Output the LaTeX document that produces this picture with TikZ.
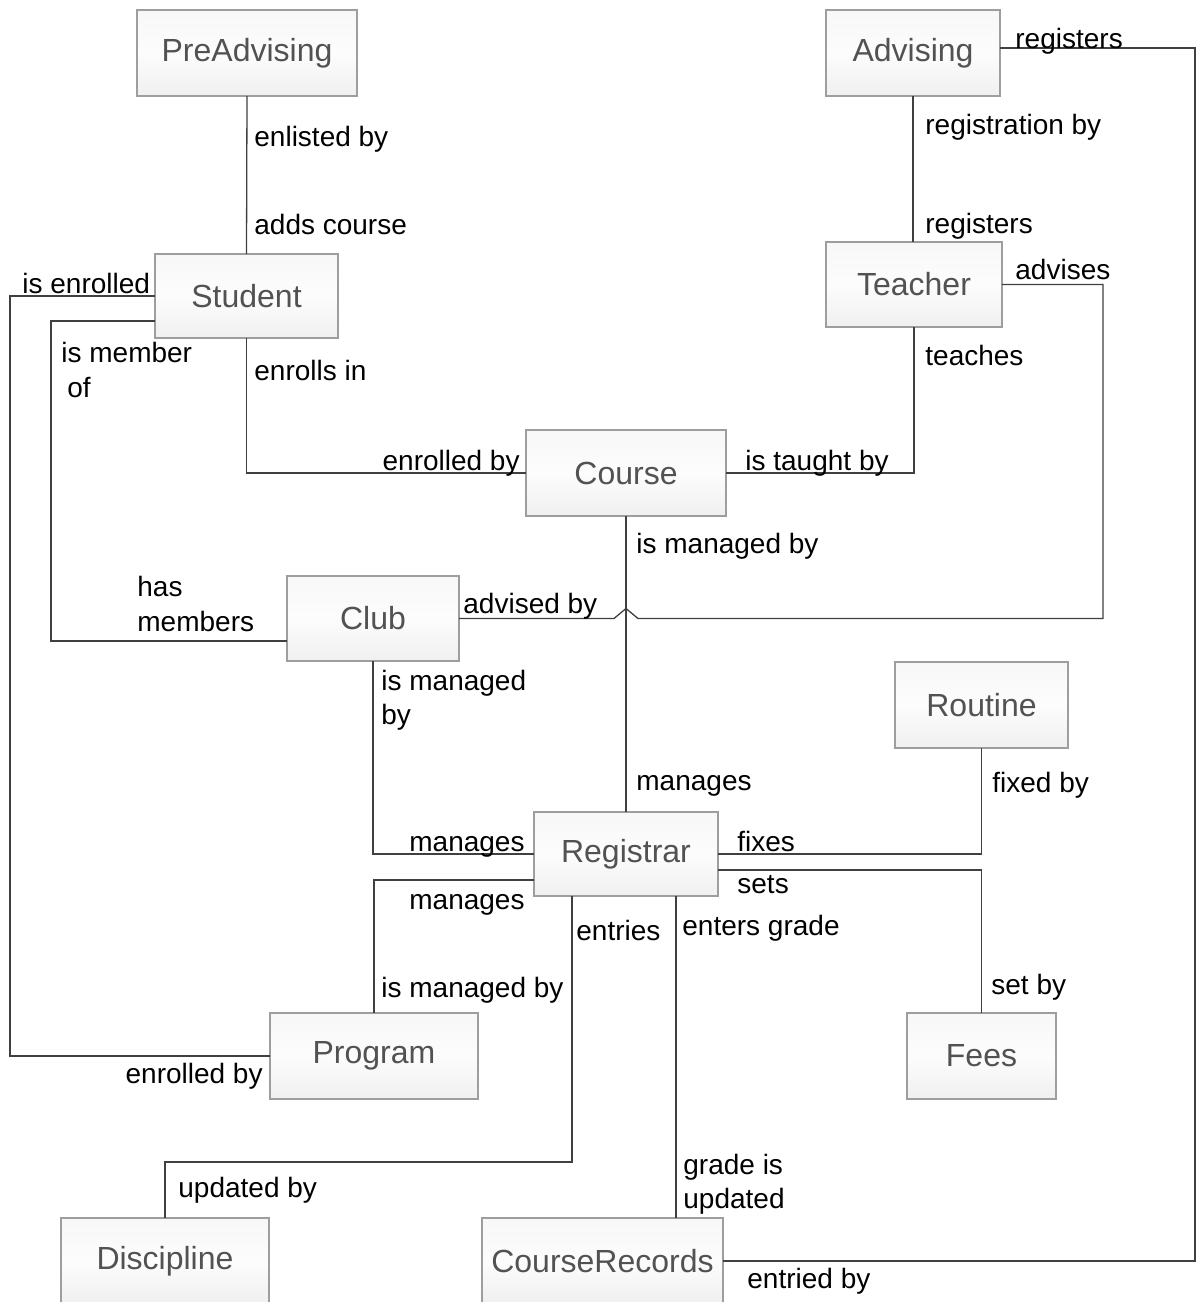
\documentclass[tikz,border=0pt]{standalone}
\usepackage{fontspec}
\setmainfont{Liberation Sans}
\begin{document}
\begin{tikzpicture}[x=0.5pt,y=-0.5pt,
  entity/.style={draw=black!38,top color=black!3,bottom color=black!6,middle color=black!1,
    text=black!68,font=\fontsize{16}{19}\selectfont,
    inner sep=0pt,outer sep=0pt,line width=0.6pt},
  lbl/.style={font=\fontsize{14}{17}\selectfont,inner sep=0pt,text=black},
  conn/.style={draw=black!75,line width=0.65pt}]
\useasboundingbox (0,0) rectangle (1200,1302);

% entities
\node[entity,minimum width=110pt,minimum height=43pt] (pre) at (247,53) {PreAdvising};
\node[entity,minimum width=87pt,minimum height=43pt] (adv) at (913,53) {Advising};
\node[entity,minimum width=91.5pt,minimum height=42pt] (stu) at (246.5,296) {Student};
\node[entity,minimum width=88pt,minimum height=42.5pt] (tea) at (914,284.5) {Teacher};
\node[entity,minimum width=100pt,minimum height=43pt] (crs) at (626,473) {Course};
\node[entity,minimum width=86pt,minimum height=42.5pt] (clb) at (373,618.5) {Club};
\node[entity,minimum width=86.5pt,minimum height=43pt] (rtn) at (981.5,705) {Routine};
\node[entity,minimum width=92pt,minimum height=42pt] (reg) at (626,854) {Registrar};
\node[entity,minimum width=104pt,minimum height=43pt] (prg) at (374,1056) {Program};
\node[entity,minimum width=74.5pt,minimum height=43pt] (fee) at (981.5,1056) {Fees};
\node[entity,minimum width=104pt,minimum height=43pt] (dis) at (165,1261) {Discipline};
\node[entity,minimum width=120.5pt,minimum height=43pt] (cr) at (602.5,1261) {CourseRecords};

% helper coordinates for routed connectors
\coordinate (advR) at (1195,0);
\coordinate (teaR) at (1103,0);
\coordinate (memL) at (51,0);
\coordinate (enrL) at (10,0);
\coordinate (disY) at (0,1162);
\coordinate (stuA) at ([yshift=-12.5pt]stu.west);
\coordinate (clbA) at ([yshift=-11.25pt]clb.west);
\coordinate (regP) at ([yshift=-13pt]reg.west);
\coordinate (regF) at ([yshift=-8pt]reg.east);
\coordinate (regD) at ([xshift=-27pt]reg.south);
\coordinate (regC) at ([xshift=25pt]reg.south);
\coordinate (advA) at ([yshift=2.5pt]adv.east);
\coordinate (hop) at ([xshift=6pt]crs.south |- clb.east);

% connectors
\draw[conn] (pre.south) -- (stu.north);
\draw[conn] (adv.south) -- (tea.north -| adv.south);
\draw[conn] (advA) -| (advR |- cr.east) -- (cr.east);
\draw[conn] (stu.south) |- (crs.west);
\draw[conn] (tea.south) |- (crs.east);
\draw[conn] (tea.east) -| (teaR |- clb.east) -- (hop) -- ++(-6pt,5pt) -- ++(-6pt,-5pt) -- (clb.east);
\draw[conn] (crs.south) -- (reg.north);
\draw[conn] (stuA) -| (memL |- clbA) -- (clbA);
\draw[conn] (stu.west) -| (enrL |- prg.west) -- (prg.west);
\draw[conn] (clb.south) |- (reg.west);
\draw[conn] (regP) -| (prg.north);
\draw[conn] (reg.east) -| (rtn.south);
\draw[conn] (regF) -| (fee.north);
\draw[conn] (regD) |- (disY -| dis.north) -- (dis.north);
\draw[conn] (regC) -- (regC |- cr.north);

% role labels
\node[lbl,anchor=base west] (l1) at (254,146) {enlisted by};
\node[lbl,anchor=base west] (l2) at (254,234) {adds course};
\node[lbl,anchor=base west] (l3) at (1015,48) {registers};
\node[lbl,anchor=base west] (l4) at (925,134) {registration by};
\node[lbl,anchor=base west] (l5) at (925,233) {registers};
\node[lbl,anchor=base west] (l6) at (22,293) {is enrolled};
\node[lbl,anchor=base west] (l7) at (1015,279) {advises};
\node[lbl,anchor=base west] (l8) at (61,362) {is member};
\node[lbl,anchor=base west] (l9) at (67,397) {of};
\node[lbl,anchor=base west] (l10) at (254,380) {enrolls in};
\node[lbl,anchor=base west] (l11) at (925,365) {teaches};
\node[lbl,anchor=base east] (l12) at (520,470) {enrolled by};
\node[lbl,anchor=base west] (l13) at (745,470) {is taught by};
\node[lbl,anchor=base west] (l14) at (636,553) {is managed by};
\node[lbl,anchor=base west] (l15) at (137,596) {has};
\node[lbl,anchor=base west] (l16) at (137,631) {members};
\node[lbl,anchor=base west] (l17) at (463,613) {advised by};
\node[lbl,anchor=base west] (l18) at (381,690) {is managed};
\node[lbl,anchor=base west] (l19) at (381,724) {by};
\node[lbl,anchor=base west] (l20) at (636,790) {manages};
\node[lbl,anchor=base west] (l21) at (992,792) {fixed by};
\node[lbl,anchor=base west] (l22) at (409,851) {manages};
\node[lbl,anchor=base west] (l23) at (737,851) {fixes};
\node[lbl,anchor=base west] (l24) at (737,893) {sets};
\node[lbl,anchor=base west] (l25) at (409,909) {manages};
\node[lbl,anchor=base west] (l26) at (576,940) {entries};
\node[lbl,anchor=base west] (l27) at (682,935) {enters grade};
\node[lbl,anchor=base west] (l28) at (381,997) {is managed by};
\node[lbl,anchor=base west] (l29) at (991,994) {set by};
\node[lbl,anchor=base east] (l30) at (263,1083) {enrolled by};
\node[lbl,anchor=base west] (l31) at (683,1174) {grade is};
\node[lbl,anchor=base west] (l32) at (683,1208) {updated};
\node[lbl,anchor=base west] (l33) at (178,1197) {updated by};
\node[lbl,anchor=base west] (l34) at (747,1288) {entried by};
\end{tikzpicture}
\end{document}
